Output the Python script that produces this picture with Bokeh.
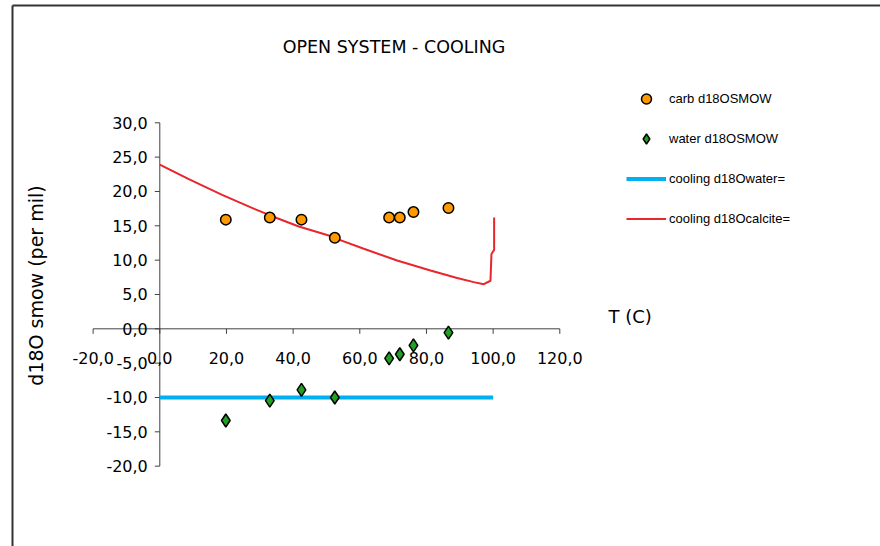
import math

from bokeh.core.properties import value
from bokeh.embed import file_html
from bokeh.models import Label, Legend, LegendItem, Range1d
from bokeh.plotting import figure
from bokeh.resources import INLINE

# ---- data ---------------------------------------------------------------
# sample temperatures (deg C)
SAMPLE_T = [19.8, 33.0, 42.5, 52.5, 68.8, 72.0, 76.1, 86.6]
# measured d18O of carbonate (SMOW, per mil)
CARB_D18O = [15.9, 16.2, 15.9, 13.25, 16.2, 16.2, 17.0, 17.6]
# d18O of water in equilibrium (SMOW, per mil)
WATER_D18O = [-13.35, -10.45, -8.9, -10.0, -4.3, -3.7, -2.4, -0.55]

# open-system cooling path: water composition
COOL_WATER_T = [0.0, 100.0]
COOL_WATER_D18O = [-10.0, -10.0]

# open-system cooling path: calcite composition
COOL_CALCITE_T = [0.0, 8.7, 18.7, 28.7, 33.7, 41.7, 50.7, 52.5, 61.2, 71.2,
                  81.2, 89.2, 94.2, 97.2, 99.2, 99.5, 100.3, 100.3]
COOL_CALCITE_D18O = [23.9, 21.8, 19.5, 17.4, 16.4, 14.9, 13.6, 13.2, 11.65,
                     9.95, 8.5, 7.4, 6.8, 6.5, 7.0, 10.9, 11.5, 16.2]

X_TICKS = [-20, 0, 20, 40, 60, 80, 100, 120]
X_TICK_LABELS = ["-20,0", "0,0", "20,0", "40,0", "60,0", "80,0", "100,0", "120,0"]
Y_TICKS = [30, 25, 20, 15, 10, 5, 0, -5, -10, -15, -20]
Y_TICK_LABELS = ["30,0", "25,0", "20,0", "15,0", "10,0", "5,0", "0,0",
                 "-5,0", "-10,0", "-15,0", "-20,0"]

TITLE = "OPEN SYSTEM - COOLING"
X_TITLE = "T (C)"
Y_TITLE = "d18O smow (per mil)"

# ---- canvas / ranges ----------------------------------------------------
W, H = 880, 546
X_LO, X_HI = -47.79, 216.21
Y_LO, Y_HI = -31.70, 47.81


def px_x(px):
    return X_LO + px * (X_HI - X_LO) / W


def px_y(py):
    return Y_HI - py * (Y_HI - Y_LO) / H


def len_x(n):
    return n * (X_HI - X_LO) / W


def len_y(n):
    return n * (Y_HI - Y_LO) / H


FONT = "DejaVu Sans"
AXIS_COLOR = "#404040"

p = figure(width=W, height=H, x_range=Range1d(X_LO, X_HI), y_range=Range1d(Y_LO, Y_HI),
           output_backend="svg", toolbar_location=None, min_border=0,
           x_axis_type=None, y_axis_type=None, outline_line_color=None,
           background_fill_color="white", border_fill_color="white")
p.xgrid.visible = False
p.ygrid.visible = False

# chart-area frame (top and left edges)
p.segment(x0=[px_x(12), px_x(12)], y0=[px_y(5), px_y(5)],
          x1=[px_x(880), px_x(12)], y1=[px_y(5), px_y(546)],
          line_color="#333333", line_width=2)

# axes crossing at the origin
p.segment(x0=[X_TICKS[0], 0], y0=[0, Y_TICKS[-1]], x1=[X_TICKS[-1], 0], y1=[0, Y_TICKS[0]],
          line_color=AXIS_COLOR, line_width=1)
p.segment(x0=X_TICKS, y0=[0] * len(X_TICKS), x1=X_TICKS, y1=[-len_y(5)] * len(X_TICKS),
          line_color=AXIS_COLOR, line_width=1)
p.segment(x0=[0] * len(Y_TICKS), y0=Y_TICKS, x1=[-len_x(5)] * len(Y_TICKS), y1=Y_TICKS,
          line_color=AXIS_COLOR, line_width=1)

p.text(x=X_TICKS, y=[0] * len(X_TICKS), text=X_TICK_LABELS, y_offset=29,
       text_align="center", text_baseline="middle", text_font=value(FONT),
       text_font_size="16px", text_color="black")
p.text(x=[0] * len(Y_TICKS), y=Y_TICKS, text=Y_TICK_LABELS, x_offset=-12,
       text_align="right", text_baseline="middle", text_font=value(FONT),
       text_font_size="16px", text_color="black")

# series
r_water_line = p.line(COOL_WATER_T, COOL_WATER_D18O, line_color="#00b0f0", line_width=4)
r_calcite = p.line(COOL_CALCITE_T, COOL_CALCITE_D18O, line_color="#e8262b", line_width=2)
r_carb = p.scatter(SAMPLE_T, CARB_D18O, marker="circle", size=10.5,
                   fill_color="#ff9900", line_color="black", line_width=1.5)
r_water = p.scatter(SAMPLE_T, WATER_D18O, marker="diamond", size=13,
                    fill_color="#22a022", line_color="black", line_width=1.5)

# titles
p.add_layout(Label(x=px_x(393.5), y=px_y(46), text=TITLE, text_align="center",
                   text_baseline="middle", text_font=FONT, text_font_size="17.5px",
                   text_color="black"))
p.add_layout(Label(x=px_x(608), y=px_y(316), text=X_TITLE, text_align="left",
                   text_baseline="middle", text_font=FONT, text_font_size="18px",
                   text_color="black"))
p.add_layout(Label(x=px_x(35), y=px_y(285), text=Y_TITLE, angle=math.pi / 2,
                   text_align="center", text_baseline="middle", text_font=FONT,
                   text_font_size="19px", text_color="black"))

legend = Legend(items=[
    LegendItem(label="carb d18OSMOW", renderers=[r_carb]),
    LegendItem(label="water d18OSMOW", renderers=[r_water]),
    LegendItem(label="cooling d18Owater=", renderers=[r_water_line]),
    LegendItem(label="cooling d18Ocalcite=", renderers=[r_calcite]),
], location=(626, 315), orientation="vertical", glyph_width=40, glyph_height=25,
    label_height=20, spacing=15, padding=0, margin=0, label_standoff=3,
    label_text_font="Liberation Sans", label_text_font_size="13px",
    label_text_color="black", border_line_color=None, background_fill_alpha=0)
p.add_layout(legend)

open("out.html", "w").write(file_html(p, INLINE))
